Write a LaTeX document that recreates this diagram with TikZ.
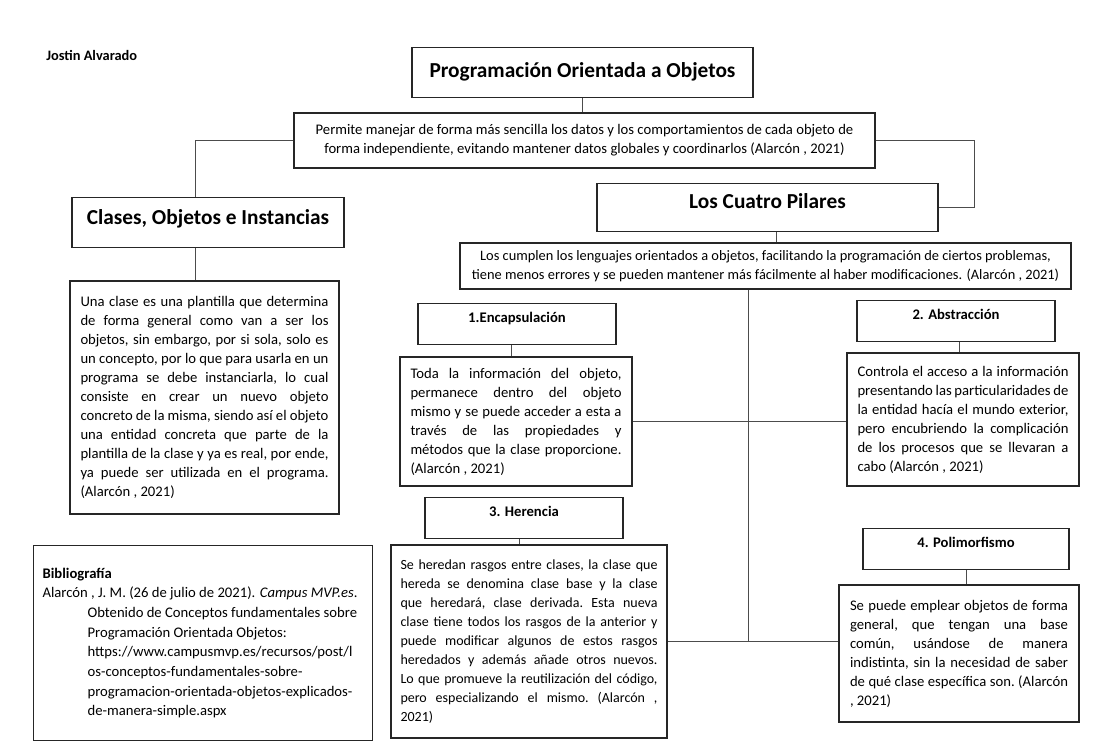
\documentclass[tikz,border=0pt]{standalone}
\usepackage{fontspec}
\setmainfont{Carlito}
\usetikzlibrary{calc}
\newcommand\wsp{\frenchspacing\spaceskip=.226em plus .8em minus .07em\relax\xspaceskip=\spaceskip}
\newcommand\J[1]{\leavevmode\hbox to\hsize{\wsp #1}\\}
\newcommand\Lst[1]{\leavevmode\hbox{\wsp #1}}
\begin{document}
\begin{tikzpicture}[x=0.75pt,y=-0.75pt,
  box/.style={draw=black!85, line width=0.9pt, fill=white},
  conn/.style={draw=black!70, line width=0.75pt},
  body/.style={box, font=\fontsize{11}{14.25}\selectfont, inner ysep=0pt},
  head/.style={box, font=\bfseries\fontsize{11}{13}\selectfont, inner sep=0pt, minimum width=148.5pt, text height=14.5pt, text depth=16pt},
  big/.style={box, font=\bfseries\fontsize{16}{19}\selectfont, inner sep=0pt}
]
\fill[white] (0,0) rectangle (1096,755);
\useasboundingbox (0,0) rectangle (1096,755);

\node[anchor=base west, inner sep=0pt, font=\bfseries\fontsize{10.8}{13}\selectfont] (author) at (46,60.7) {Jostin Alvarado};

\node[big, anchor=north, minimum width=255.75pt, text height=22.5pt, text depth=15pt] (title) at (582.5,47) {Programación Orientada a Objetos};

\node[box, font=\fontsize{11}{14.25}\selectfont, align=center, minimum width=435.75pt, minimum height=41.25pt] (intro) at (584.5,140.5)
{Permite manejar de forma más sencilla los datos y los comportamientos de cada objeto de\\forma independiente, evitando mantener datos globales y coordinarlos (Alarcón , 2021)};

\node[big, anchor=north, minimum width=204pt, text height=20.3pt, text depth=17.2pt] (clases) at (208,197) {Clases, Objetos e Instancias};

\node[big, anchor=north, minimum width=255.75pt, text height=18.5pt, text depth=17.5pt] (pilares) at (767.5,183) {Los Cuatro Pilares};

\node[box, font=\fontsize{10.8}{14.25}\selectfont, align=center, minimum width=458.25pt, minimum height=34.5pt, inner ysep=1pt] (pilT) at (765.5,266)
{Los cumplen los lenguajes orientados a objetos, facilitando la programación de ciertos problemas,\\tiene menos errores y se pueden mantener más fácilmente al haber modificaciones. (Alarcón , 2021)};

\node[body, text width=186pt, inner xsep=7.875pt, minimum height=174.75pt] (clasesT) at (204.5,397.5)
{\J{Una clase es una plantilla que determina}
\J{de forma general como van a ser los}
\J{objetos, sin embargo, por si sola, solo es}
\J{un concepto, por lo que para usarla en un}
\J{programa se debe instanciarla, lo cual}
\J{consiste en crear un nuevo objeto}
\J{concreto de la misma, siendo así el objeto}
\J{una entidad concreta que parte de la}
\J{plantilla de la clase y ya es real, por ende,}
\J{ya puede ser utilizada en el programa.}
\Lst{(Alarcón , 2021)}};

\node[head, anchor=north] (encH) at (517,303) {1.Encapsulación};
\node[body, text width=158.25pt, inner xsep=7.875pt, minimum height=96.75pt] (encT) at (516,421.5)
{\J{Toda la información del objeto,}
\J{permanece dentro del objeto}
\J{mismo y se puede acceder a esta a}
\J{través de las propiedades y}
\J{métodos que la clase proporcione.}
\Lst{(Alarcón , 2021)}};

\node[head, anchor=north] (absH) at (956,300) {2. Abstracción};
\node[body, text width=158.25pt, inner xsep=7.875pt, minimum height=99.75pt] (absT) at (963,419.5)
{\J{Controla el acceso a la información}
\J{presentando las particularidades de}
\J{la entidad hacía el mundo exterior,}
\J{pero encubriendo la complicación}
\J{de los procesos que se llevaran a}
\Lst{cabo (Alarcón , 2021)}};

\node[head, anchor=north] (herH) at (524,497) {3. Herencia};
\node[body, font=\fontsize{10.5}{14.25}\selectfont, text width=192.75pt, inner xsep=7.125pt, minimum height=144.75pt] (herT) at (529,641.5)
{\J{Se heredan rasgos entre clases, la clase que}
\J{hereda se denomina clase base y la clase}
\J{que heredará, clase derivada. Esta nueva}
\J{clase tiene todos los rasgos de la anterior y}
\J{puede modificar algunos de estos rasgos}
\J{heredados y además añade otros nuevos.}
\J{Lo que promueve la reutilización del código,}
\J{pero especializando el mismo. (Alarcón ,}
\Lst{2021)}};

\node[head, anchor=north, minimum width=154.5pt] (poliH) at (966,528) {4. Polimorfismo};
\node[body, text width=163.5pt, inner xsep=8.25pt, minimum height=102.75pt] (poliT) at (959,653.5)
{\J{Se puede emplear objetos de forma}
\J{general, que tengan una base}
\J{común, usándose de manera}
\J{indistinta, sin la necesidad de saber}
\J{de qué clase específica son. (Alarcón}
\Lst{, 2021)}};

\node[box, anchor=north west, inner sep=0pt, minimum width=254.25pt, minimum height=146.25pt] (bib) at (33,545)
{\parbox[c][146.25pt][t]{240.75pt}{\fontsize{11}{14.75}\selectfont\vspace*{16.6pt}%
\textbf{Bibliografía}\par
\hangindent=33.75pt\hangafter=1\noindent
\mbox{Alarcón , J. M. (26 de julio de 2021). \textit{Campus MVP.es}.}\\
\mbox{Obtenido de Conceptos fundamentales sobre}\\
\mbox{Programación Orientada Objetos:}\\
\mbox{https://www.campusmvp.es/recursos/post/l}\\
\mbox{os-conceptos-fundamentales-sobre-}\\
\mbox{programacion-orientada-objetos-explicados-}\\
\mbox{de-manera-simple.aspx}\par}};

% connectors
\draw[conn] (title.south) -- (title.south |- intro.north);
\draw[conn] (intro.west) -| ($(clases.north)+(-13,0)$);
\draw[conn] (intro.east) -- ++(99,0) |- (pilares.east);
\draw[conn] ($(clases.south)+(-13,0)$) coordinate (c1) -- (c1 |- clasesT.north);
\draw[conn] ($(pilares.south)+(8.5,0)$) coordinate (c2) -- (c2 |- pilT.north);
\draw[conn] ($(pilT.south)+(-17.5,0)$) coordinate (c3) -- (c3 |- herT.east);
\draw[conn] (encT.east) -- (encT.east -| absT.west);
\draw[conn] (herT.east) -- (herT.east -| poliT.west);
\draw[conn] ($(encH.south)+(-6,0)$) coordinate (c4) -- (c4 |- encT.north);
\draw[conn] ($(absH.south)+(3,0)$) coordinate (c5) -- (c5 |- absT.north);
\draw[conn] ($(herH.south)+(-5,0)$) coordinate (c6) -- (c6 |- herT.north);
\draw[conn] (poliH.south) -- (poliH.south |- poliT.north);
\end{tikzpicture}
\end{document}
